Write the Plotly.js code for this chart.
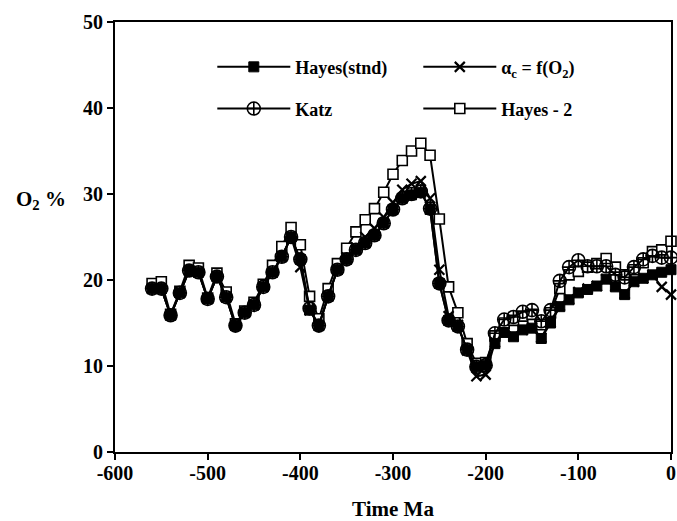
<!DOCTYPE html>
<html>
<head>
<meta charset="utf-8">
<script src="https://cdn.plot.ly/plotly-3.0.1.min.js"></script>
<style>html,body{margin:0;padding:0;background:#fff;}</style>
</head>
<body>
<div id="chart" style="width:677px;height:521px;"></div>
<script>
const time = [-560,-550,-540,-530,-520,-510,-500,-490,-480,-470,-460,-450,-440,-430,-420,-410,-400,-390,-380,-370,-360,-350,-340,-330,-320,-310,-300,-290,-280,-270,-260,-250,-240,-230,-220,-210,-200,-190,-180,-170,-160,-150,-140,-130,-120,-110,-100,-90,-80,-70,-60,-50,-40,-30,-20,-10,0];

const hayesStnd = [19.0,19.0,15.9,18.5,21.1,20.9,17.8,20.4,18.0,14.7,16.2,17.1,19.2,20.9,22.7,25.0,22.4,16.5,14.7,18.1,21.2,22.4,23.5,24.3,25.2,26.6,28.2,29.5,29.9,30.2,28.2,19.6,15.3,14.6,11.9,9.9,10.1,12.6,13.9,13.4,14.2,14.4,13.2,15.0,16.9,17.7,18.5,18.9,19.3,20.1,19.2,18.3,19.8,20.2,20.6,20.9,21.2];

const alphaC = [19.0,19.0,15.9,18.5,21.1,20.9,17.8,20.4,18.0,14.7,16.2,17.1,19.2,20.9,22.7,25.0,21.5,16.5,14.7,18.1,21.2,22.6,23.8,25.0,26.0,27.3,29.0,30.5,31.2,31.5,29.5,21.2,15.8,14.8,11.8,8.8,9.0,12.8,13.9,13.5,14.2,14.5,13.3,15.1,17.0,17.8,18.6,19.0,19.3,20.1,19.3,18.4,19.8,20.2,20.6,19.2,18.3];

const katz = [19.0,19.0,15.9,18.5,21.1,20.9,17.8,20.4,18.0,14.7,16.2,17.1,19.2,20.9,22.7,25.0,22.4,16.7,14.7,18.1,21.2,22.4,23.5,24.3,25.2,26.6,28.2,29.5,30.0,30.3,28.3,19.6,15.3,14.6,11.9,9.9,10.1,13.8,15.4,15.7,16.3,16.5,15.2,16.5,19.9,21.5,22.3,21.6,21.6,21.6,20.6,20.3,21.5,22.4,22.8,22.6,22.6];

const hayes2 = [19.6,19.8,16.0,18.7,21.7,21.4,17.9,20.8,18.6,14.9,16.4,17.4,19.5,21.7,23.9,26.1,24.1,18.1,15.5,19.0,21.9,23.7,25.6,27.0,28.3,30.2,32.3,33.9,35.0,35.9,34.5,27.1,19.2,16.2,12.6,10.3,10.4,13.5,15.0,15.3,15.8,16.0,14.8,16.2,19.0,20.6,21.0,21.5,21.9,22.5,21.5,20.6,21.2,22.0,23.3,23.5,24.5];

const seriesNames = ['Hayes(stnd)', 'α<sub>c</sub> = f(O<sub>2</sub>)', 'Katz', 'Hayes - 2'];
const xTicks = [-600,-500,-400,-300,-200,-100,0];
const yTicks = [0,10,20,30,40,50];

const FONT = 'Liberation Serif, Times New Roman, serif';
const lineStyle = {color:'#000', width:2};

const traces = [
  {x: time, y: hayes2, name: '<b>' + seriesNames[3] + '</b>', legend: 'legend2', mode:'lines+markers', line: lineStyle,
   marker:{symbol:'square', size:10, color:'#fff', line:{color:'#000', width:1.6}}, cliponaxis:false},
  {x: time, y: katz, name: '<b>' + seriesNames[2] + '</b>', legend: 'legend2', mode:'lines+markers', line: lineStyle,
   marker:{symbol:'circle-cross-open', size:13, color:'#000', line:{color:'#000', width:1.6}}, cliponaxis:false},
  {x: time, y: alphaC, name: '<b>' + seriesNames[1] + '</b>', legend: 'legend', mode:'lines+markers', line: lineStyle,
   marker:{symbol:'x-thin-open', size:10, color:'#000', line:{color:'#000', width:2.2}}, cliponaxis:false},
  {x: time, y: hayesStnd, name: '<b>' + seriesNames[0] + '</b>', legend: 'legend', mode:'lines+markers', line: lineStyle,
   marker:{symbol:'square', size:10, color:'#000', line:{color:'#000', width:1}}, cliponaxis:false}
];

const legendCommon = {
  orientation:'h', xanchor:'left', yanchor:'middle', bgcolor:'rgba(0,0,0,0)', borderwidth:0,
  font:{family:FONT, size:18, color:'#000'}, entrywidth:118, entrywidthmode:'pixels', itemwidth:73,
  traceorder:'reversed'
};

const layout = {
  width:677, height:521,
  margin:{l:115, r:6, t:22, b:69},
  paper_bgcolor:'#fff', plot_bgcolor:'#fff',
  font:{family:FONT, color:'#000'},
  showlegend:true,
  legend: Object.assign({}, legendCommon, {x:0.175, y:0.895}),
  legend2: Object.assign({}, legendCommon, {x:0.175, y:0.798}),
  xaxis:{range:[-600,0], tickvals:xTicks, ticktext:xTicks.map(String), showline:true, linewidth:2, linecolor:'#000', mirror:true,
    ticks:'outside', ticklen:6, tickwidth:2, tickcolor:'#000', showgrid:false, zeroline:false, ticklabelstandoff:-4,
    tickfont:{family:FONT, size:20, weight:'bold', color:'#000'},
    title:{text:'<b>Time Ma</b>', font:{family:FONT, size:21, color:'#000'}, standoff:20}},
  yaxis:{range:[0,50], tickvals:yTicks, ticktext:yTicks.map(String), showline:true, linewidth:2, linecolor:'#000', mirror:true,
    ticks:'outside', ticklen:6, tickwidth:2, tickcolor:'#000', showgrid:false, zeroline:false,
    tickfont:{family:FONT, size:20, weight:'bold', color:'#000'}},
  annotations:[{text:'<b>O<sub>2</sub> %</b>', xref:'paper', yref:'paper', x:-0.133, y:0.586, xanchor:'center', yanchor:'middle',
    showarrow:false, font:{family:FONT, size:21, color:'#000'}}]
};

Plotly.newPlot('chart', traces, layout, {displayModeBar:false, staticPlot:true});
</script>
</body>
</html>
